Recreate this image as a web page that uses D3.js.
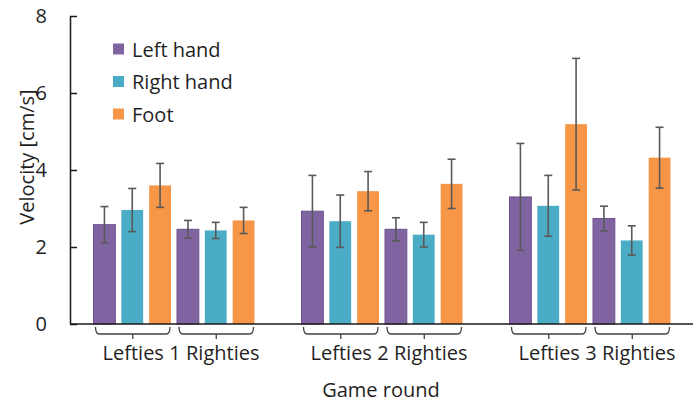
<!DOCTYPE html>
<html>
<head>
<meta charset="utf-8">
<script src="https://cdn.jsdelivr.net/npm/d3@7"></script>
<style>
  html, body { margin: 0; padding: 0; background: #fff; }
  svg { display: block; font-family: "Open Sans", sans-serif; }
</style>
</head>
<body>
<svg id="chart" width="700" height="405"></svg>
<script>
// ---- data ----
const rounds = ["1", "2", "3"];
const groups = ["Lefties", "Righties"];
const seriesNames = ["Left hand", "Right hand", "Foot"];
const seriesColors = ["#8064A2", "#4BACC6", "#F79646"];
const yTicks = [0, 2, 4, 6, 8];
// values ordered: R1 Lefties, R1 Righties, R2 Lefties, R2 Righties, R3 Lefties, R3 Righties
const leftHand     = [2.58, 2.46, 2.93, 2.46, 3.30, 2.74];
const leftHandErr  = [0.47, 0.23, 0.93, 0.30, 1.39, 0.32];
const rightHand    = [2.96, 2.43, 2.67, 2.32, 3.07, 2.17];
const rightHandErr = [0.56, 0.21, 0.68, 0.32, 0.79, 0.38];
const foot         = [3.60, 2.69, 3.45, 3.64, 5.19, 4.32];
const footErr      = [0.57, 0.34, 0.51, 0.64, 1.71, 0.79];

const seriesValues = [leftHand, rightHand, foot];
const seriesErrors = [leftHandErr, rightHandErr, footErr];

(function () {
// build records
const records = [];
rounds.forEach((r, ri) => {
  groups.forEach((g, gi) => {
    seriesNames.forEach((s, si) => {
      const idx = ri * groups.length + gi;
      records.push({ round: r, group: g, series: s, si,
        value: seriesValues[si][idx], err: seriesErrors[si][idx] });
    });
  });
});

// ---- layout ----
const svg = d3.select("#chart");
const pl = 70, pr = 694, pt = 16, pb = 324;
const textColor = "#1f1f1f";
const fs = 20;

const x0 = d3.scaleBand().domain(rounds).range([pl, pr])
  .paddingInner(0.226).paddingOuter(0.113);
const x1 = d3.scaleBand().domain(groups).range([0, x0.bandwidth()])
  .paddingInner(0.072).paddingOuter(0);
const x2 = d3.scaleBand().domain(seriesNames).range([0, x1.bandwidth()])
  .paddingInner(0.2156).paddingOuter(0);
const y = d3.scaleLinear().domain([0, 8]).range([pb, pt]);

const barX = d => x0(d.round) + x1(d.group) + x2(d.series);

// bars
svg.append("g").selectAll("rect").data(records).join("rect")
  .attr("x", barX)
  .attr("y", d => y(d.value))
  .attr("width", x2.bandwidth())
  .attr("height", d => y(0) - y(d.value))
  .attr("fill", d => seriesColors[d.si])
  .attr("stroke", d => d.si === 0 ? "#6a538c" : "none")
  .attr("stroke-width", 1);

// error bars
const eb = svg.append("g").attr("stroke", "#595959").attr("stroke-width", 1.6).attr("fill", "none");
const cx = d => barX(d) + x2.bandwidth() / 2;
eb.selectAll("line.v").data(records).join("line").attr("class", "v")
  .attr("x1", cx).attr("x2", cx)
  .attr("y1", d => y(d.value + d.err)).attr("y2", d => y(d.value - d.err));
eb.selectAll("line.t").data(records).join("line").attr("class", "t")
  .attr("x1", d => cx(d) - 4).attr("x2", d => cx(d) + 4)
  .attr("y1", d => y(d.value + d.err)).attr("y2", d => y(d.value + d.err));
eb.selectAll("line.b").data(records).join("line").attr("class", "b")
  .attr("x1", d => cx(d) - 4).attr("x2", d => cx(d) + 4)
  .attr("y1", d => y(d.value - d.err)).attr("y2", d => y(d.value - d.err));

// y axis
const yAxis = d3.axisLeft(y).tickValues(yTicks).tickSizeInner(-7).tickSizeOuter(0).tickPadding(23);
const yg = svg.append("g").attr("transform", `translate(${pl},0)`).call(yAxis);
yg.select(".domain").attr("stroke", "#1a1a1a").attr("stroke-width", 1.5);
yg.selectAll(".tick line").attr("stroke", "#1a1a1a").attr("stroke-width", 1.5);
yg.selectAll(".tick text").attr("font-size", fs).attr("fill", textColor)
  .attr("font-family", "Open Sans, sans-serif");

// x axis baseline
svg.append("line").attr("x1", pl).attr("x2", 693).attr("y1", y(0)).attr("y2", y(0))
  .attr("stroke", "#1a1a1a").attr("stroke-width", 1.5);

// brackets and labels
const bracketData = [];
rounds.forEach(r => groups.forEach(g => bracketData.push({ round: r, group: g })));
const bg = svg.append("g").attr("stroke", "#404040").attr("stroke-width", 1.3).attr("fill", "none");
bg.selectAll("path").data(bracketData).join("path")
  .attr("d", d => {
    const a = x0(d.round) + x1(d.group) + 2;
    const b = x0(d.round) + x1(d.group) + x1.bandwidth() - 1;
    const m = (a + b) / 2;
    const t = pb + 3, h = pb + 10;
    return `M${a},${t} Q${a},${h} ${a + 4},${h} L${b - 4},${h} Q${b},${h} ${b},${t}` +
           ` M${m},${h} L${m},${h + 5}`;
  });

const lab = svg.append("g").attr("font-size", fs).attr("fill", textColor);
lab.selectAll("text.g").data(bracketData).join("text").attr("class", "g")
  .attr("x", d => x0(d.round) + x1(d.group) + x1.bandwidth() / 2 + (d.group === "Lefties" ? 1 : 7))
  .attr("y", 360)
  .attr("text-anchor", "middle")
  .text(d => d.group);
lab.selectAll("text.r").data(rounds).join("text").attr("class", "r")
  .attr("x", d => x0(d) + x0.bandwidth() / 2 + 1)
  .attr("y", 360)
  .attr("text-anchor", "middle")
  .text(d => d);

// axis titles
svg.append("text").attr("x", (pl + pr) / 2 - 1).attr("y", 397)
  .attr("text-anchor", "middle").attr("font-size", fs).attr("fill", textColor)
  .text("Game round");
svg.append("text").attr("transform", `translate(34,157) rotate(-90)`)
  .attr("text-anchor", "middle").attr("font-size", fs).attr("fill", textColor)
  .text("Velocity [cm/s]");

// legend
const lg = svg.append("g").selectAll("g").data(seriesNames).join("g")
  .attr("transform", (d, i) => `translate(113,${49 + i * 32.5})`);
lg.append("rect").attr("x", 0).attr("y", -5.5).attr("width", 11).attr("height", 11)
  .attr("fill", (d, i) => seriesColors[i]);
lg.append("text").attr("x", 19).attr("y", 7.5).attr("font-size", fs).attr("fill", textColor)
  .text(d => d);
})();
</script>
</body>
</html>
